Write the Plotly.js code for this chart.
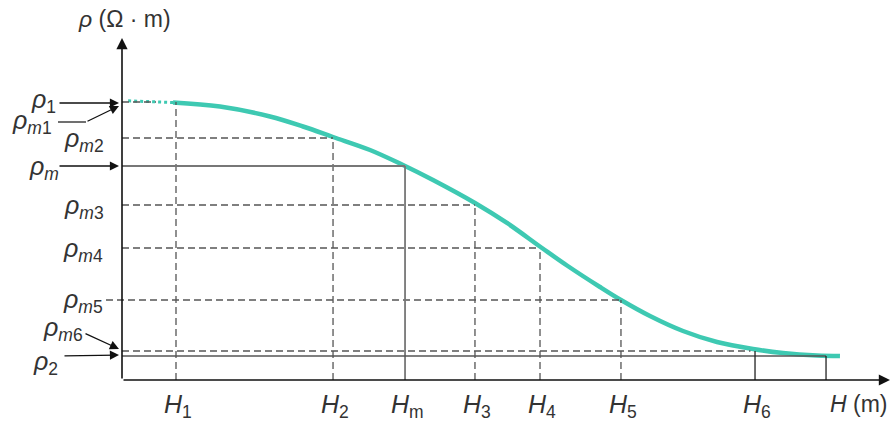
<!DOCTYPE html>
<html><head><meta charset="utf-8">
<script src="https://cdn.plot.ly/plotly-3.0.1.min.js"></script>
<style>html,body{margin:0;padding:0;background:#fff}</style>
</head><body>
<div id="chart" style="width:892px;height:423px"></div>
<script>
// ---- data (arbitrary schematic units) ----
const hNames = ['H1','H2','Hm','H3','H4','H5','H6','Hend'];
const hLabels = ['<i>H</i><sub>1</sub>','<i>H</i><sub>2</sub>','<i>H</i><sub>m</sub>','<i>H</i><sub>3</sub>','<i>H</i><sub>4</sub>','<i>H</i><sub>5</sub>','<i>H</i><sub>6</sub>',''];
const hValues = [7.05, 27.55, 36.95, 46.08, 54.57, 65.14, 82.64, 91.91];
const rhoNames = ['rho1','rhom2','rhom','rhom3','rhom4','rhom5','rhom6','rho2'];
const rhoValues = [81.76, 71.18, 62.94, 51.47, 38.82, 23.53, 8.53, 7.06];
const curveH   = [6.66, 12.79, 19.32, 23.63, 27.55, 32.38, 36.68, 40.60, 46.08, 50.26, 54.83, 58.09, 62.40, 65.14, 68.93, 73.24, 77.68, 82.38, 86.29, 90.73, 93.73];
const curveRho = [81.62, 80.44, 77.50, 74.56, 71.47, 67.65, 63.24, 58.82, 52.06, 46.18, 38.82, 33.68, 27.35, 23.53, 18.82, 14.41, 11.18, 9.12, 7.94, 7.21, 7.06];
const dottedH = [0.8, 6.66];
const dottedRho = [82.1, 81.62];

// ---- geometry ----
const X0 = 122, XS = 7.66, Y0 = 380, YS = 3.4;
const W = 892, H = 423;
const xr = [(0 - X0) / XS, (W - X0) / XS];
const yr = [(Y0 - H) / YS, Y0 / YS];
const px2x = p => (p - X0) / XS;
const px2y = p => (Y0 - p) / YS;

const teal = '#3ec9b2';
const dashCol = '#555';
const txtCol = '#333';

const traces = [
  {x: curveH, y: curveRho, mode: 'lines', line: {color: teal, width: 4.5, shape: 'spline', smoothing: 1}, hoverinfo: 'skip'},
  {x: dottedH, y: dottedRho, mode: 'lines', line: {color: teal, width: 3, dash: 'dot'}, hoverinfo: 'skip'}
];

const shapes = [];
const dash = {color: dashCol, width: 1.3, dash: '7px,4px'};
const Hi = n => hValues[hNames.indexOf(n)];
const Ri = n => rhoValues[rhoNames.indexOf(n)];
const pairs = [['rho1','H1'],['rhom2','H2'],['rhom3','H3'],['rhom4','H4'],['rhom5','H5']];
pairs.forEach(([r,h]) => {
  shapes.push({type:'line', x0:Hi(h), x1:Hi(h), y0:0, y1:Ri(r), line:dash});
});
shapes.push({type:'line', x0:0, x1:px2x(156), y0:Ri('rho1'), y1:Ri('rho1'), line:dash});
shapes.push({type:'line', x0:0, x1:Hi('H2'), y0:Ri('rhom2'), y1:Ri('rhom2'), line:dash});
shapes.push({type:'line', x0:0, x1:Hi('H3'), y0:Ri('rhom3'), y1:Ri('rhom3'), line:dash});
shapes.push({type:'line', x0:0, x1:Hi('H4'), y0:Ri('rhom4'), y1:Ri('rhom4'), line:dash});
shapes.push({type:'line', x0:px2x(106), x1:Hi('H5'), y0:Ri('rhom5'), y1:Ri('rhom5'), line:dash});
shapes.push({type:'line', x0:0, x1:Hi('H6') - 0.6, y0:Ri('rhom6'), y1:Ri('rhom6'), line:dash});
const grey = {color:'#777', width:1.8};
shapes.push({type:'line', x0:0, x1:Hi('Hm'), y0:Ri('rhom'), y1:Ri('rhom'), line:grey});
shapes.push({type:'line', x0:Hi('Hm'), x1:Hi('Hm'), y0:0, y1:Ri('rhom'), line:grey});
shapes.push({type:'line', x0:0, x1:Hi('Hend'), y0:Ri('rho2'), y1:Ri('rho2'), line:{color:'#555', width:1.3}});
shapes.push({type:'line', x0:Hi('H6'), x1:Hi('H6'), y0:0, y1:Ri('rhom6'), line:{color:'#222', width:1.3}});
shapes.push({type:'line', x0:Hi('Hend'), x1:Hi('Hend'), y0:0, y1:Ri('rho2'), line:{color:'#222', width:1.3}});
shapes.push({type:'line', x0:px2x(58), x1:px2x(86), y0:px2y(122), y1:px2y(122), line:{color:'#222', width:1.3}});

const arrow = (x, y, ax, ay, w) => ({x, y, ax, ay, xref:'x', yref:'y', axref:'x', ayref:'y', text:'', showarrow:true, arrowhead:2, arrowsize:1.4, arrowwidth:w || 1.3, arrowcolor:'#111'});

const annotations = [
  arrow(0, px2y(38), 0, 0, 1.6),
  arrow(px2x(890), 0, 0, 0, 1.6),
  arrow(px2x(119), px2y(103), px2x(58), px2y(103)),
  arrow(px2x(119), px2y(106), px2x(86), px2y(122)),
  arrow(px2x(119), Ri('rhom'), px2x(58), Ri('rhom')),
  arrow(px2x(119), px2y(349), px2x(84), px2y(333)),
  arrow(px2x(119), px2y(355), px2x(63), px2y(356)),
];

const txt = (text, x, y, xa, ya, size) => ({text, x, y, xref:'x', yref:'y', showarrow:false, xanchor:xa || 'center', yanchor:ya || 'middle', font:{family:'Liberation Sans, Arial, sans-serif', size:size || 25, color:txtCol}});

hLabels.forEach((l, i) => { if (l) annotations.push(txt(l, hValues[i] + 0.3, px2y(406))); });
annotations.push(txt('<i>H</i> (m)', px2x(859), px2y(404), 'center', 'middle', 23));
annotations.push(txt('<i>ρ</i> (Ω · m)', px2x(124), px2y(19), 'center', 'middle', 23));

const rhoLab = (n) => '<i>ρ</i><sub><i>m</i>' + n + '</sub>';
annotations.push(txt('<i>ρ</i><sub>1</sub>', px2x(29), px2y(101), 'left'));
annotations.push(txt(rhoLab('1'), px2x(10), px2y(122), 'left'));
annotations.push(txt(rhoLab('2'), px2x(62), px2y(140), 'left'));
annotations.push(txt(rhoLab(''), px2x(27), px2y(168), 'left'));
annotations.push(txt(rhoLab('3'), px2x(62), px2y(207), 'left'));
annotations.push(txt(rhoLab('4'), px2x(61), px2y(250), 'left'));
annotations.push(txt(rhoLab('5'), px2x(61), px2y(301), 'left'));
annotations.push(txt(rhoLab('6'), px2x(41), px2y(329), 'left'));
annotations.push(txt('<i>ρ</i><sub>2</sub>', px2x(31), px2y(363), 'left'));

const layout = {
  width: W, height: H,
  margin: {l:0, r:0, t:0, b:0},
  paper_bgcolor: '#fff', plot_bgcolor: '#fff',
  showlegend: false,
  xaxis: {range: xr, visible: false, fixedrange: true},
  yaxis: {range: yr, visible: false, fixedrange: true},
  shapes, annotations
};
Plotly.newPlot('chart', traces, layout, {displayModeBar: false, staticPlot: true});
</script>
</body></html>
